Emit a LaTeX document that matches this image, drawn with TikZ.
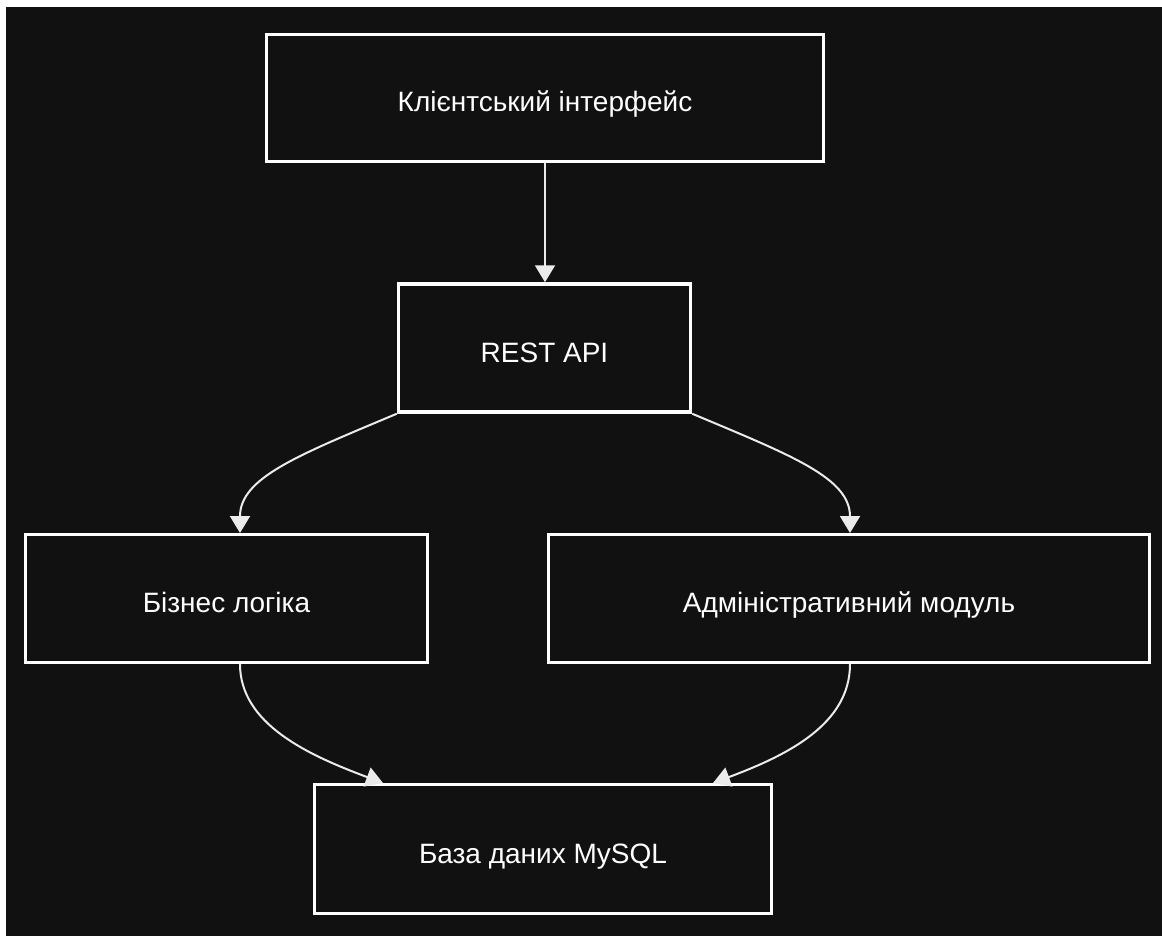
\documentclass[tikz,border=0pt]{standalone}
\usepackage{fontspec}
\setmainfont{Liberation Sans}
\usetikzlibrary{arrows.meta}
\definecolor{bgdark}{HTML}{111111}
\tikzset{
  box/.style={draw=white, line width=3.5pt, fill=bgdark, text=white, font=\fontsize{28}{32}\selectfont, inner sep=0pt, text height=28pt, text depth=0pt},
  link/.style={draw=white!92!black, line width=2pt, -{Triangle[width=20pt,length=17pt]}}
}
\begin{document}
\begin{tikzpicture}[x=1pt,y=1pt]
\fill[white] (0,0) rectangle (1162,-936);
\fill[bgdark] (6,-7) rectangle (1162,-936);
\useasboundingbox (0,0) rectangle (1162,-936);
\node[box, minimum width=557pt, minimum height=127pt] (client) at (545,-98) {Клієнтський інтерфейс};
\node[box, minimum width=292pt, minimum height=128pt] (rest) at (544.5,-348) {REST API};
\node[box, minimum width=402pt, minimum height=128pt] (biz) at (226.5,-598.5) {Бізнес логіка};
\node[box, minimum width=601pt, minimum height=128pt] (adm) at (849,-598.5) {Адміністративний модуль};
\node[box, minimum width=457pt, minimum height=129pt] (db) at (543,-849) {База даних MySQL};
\coordinate (bizTop) at (240,-533);
\coordinate (admTop) at (850,-533);
\coordinate (bizBot) at (240,-664);
\coordinate (admBot) at (850,-664);
\coordinate (dbL) at (383,-783);
\coordinate (dbR) at (713,-783);
\draw[link] (client.south -| 545,0) -- (rest.north -| 545,0);
\draw[link] (rest.south west) .. controls +(-100,-42) and +(0,55) .. (bizTop);
\draw[link] (rest.south east) .. controls +(100,-42) and +(0,55) .. (admTop);
\draw[link] (bizBot) .. controls +(0,-60) and +(-75,28) .. (dbL);
\draw[link] (admBot) .. controls +(0,-60) and +(75,28) .. (dbR);
\end{tikzpicture}
\end{document}
